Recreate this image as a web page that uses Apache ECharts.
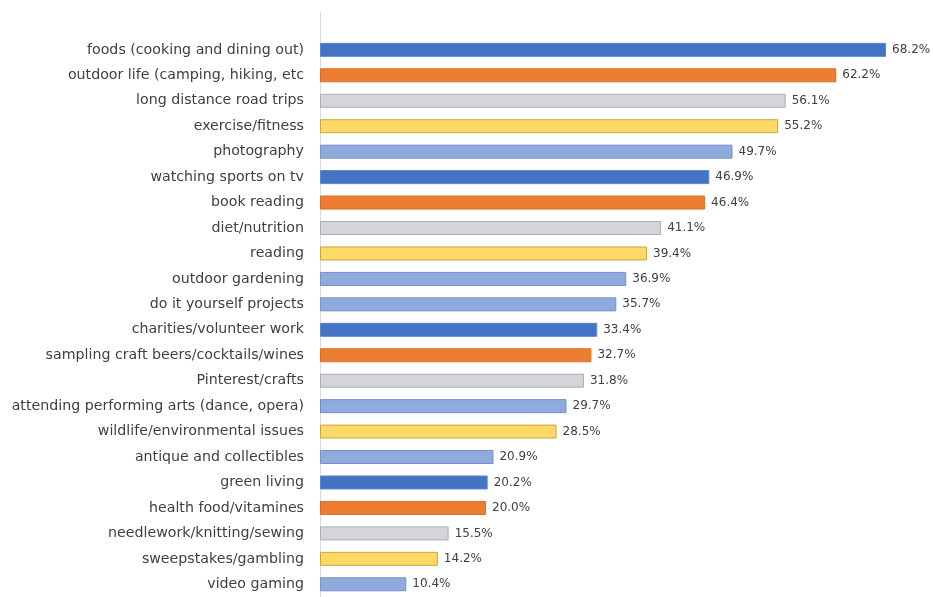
<!DOCTYPE html>
<html><head><meta charset="utf-8">
<script src="https://cdn.jsdelivr.net/npm/echarts@6/dist/echarts.min.js"></script>
<style>html,body{margin:0;padding:0;background:#fff}#c{width:933px;height:597px}</style>
</head><body><div id="c"></div>
<script>
const categories = [
  "foods (cooking and dining out)",
  "outdoor life (camping, hiking, etc",
  "long distance road trips",
  "exercise/fitness",
  "photography",
  "watching sports on tv",
  "book reading",
  "diet/nutrition",
  "reading",
  "outdoor gardening",
  "do it yourself projects",
  "charities/volunteer work",
  "sampling craft beers/cocktails/wines",
  "Pinterest/crafts",
  "attending performing arts (dance, opera)",
  "wildlife/environmental issues",
  "antique and collectibles",
  "green living",
  "health food/vitamines",
  "needlework/knitting/sewing",
  "sweepstakes/gambling",
  "video gaming"
];
const values = [68.2, 62.2, 56.1, 55.2, 49.7, 46.9, 46.4, 41.1, 39.4, 36.9, 35.7, 33.4, 32.7, 31.8, 29.7, 28.5, 20.9, 20.2, 20.0, 15.5, 14.2, 10.4];

const palette = {
  blue:   {fill: "#4472C4", border: "#5B85CF"},
  orange: {fill: "#ED7D31", border: "#D9702A"},
  grey:   {fill: "#D3D5D9", border: "#A9ADB3"},
  yellow: {fill: "#FFD966", border: "#C9A73E"},
  light:  {fill: "#8FAADC", border: "#7590C6"}
};
const colorKeys = ["blue","orange","grey","yellow","light","blue","orange","grey","yellow","light","light","blue","orange","grey","light","yellow","light","blue","orange","grey","yellow","light"];

const axisData = [""].concat(categories);
const seriesData = [null].concat(values.map((v, i) => ({
  value: v,
  itemStyle: {color: palette[colorKeys[i]].fill, borderColor: palette[colorKeys[i]].border, borderWidth: 1}
})));

const chart = echarts.init(document.getElementById('c'), null, {renderer: 'canvas'});
chart.setOption({
  animation: false,
  textStyle: {fontFamily: "DejaVu Sans"},
  grid: {left: 320, right: 32, top: 11.7, bottom: -1.7, containLabel: false},
  xAxis: {
    type: 'value', min: 0, max: 70,
    show: false
  },
  yAxis: {
    type: 'category', inverse: true, data: axisData,
    axisLine: {show: true, lineStyle: {color: '#D9D9D9', width: 1}},
    axisTick: {show: false},
    axisLabel: {color: '#404040', fontSize: 14.2, margin: 16, fontFamily: "DejaVu Sans"},
    splitLine: {show: false}
  },
  series: [{
    type: 'bar',
    data: seriesData,
    barWidth: 14,
    label: {
      show: true, position: 'right', distance: 6,
      color: '#404040', fontSize: 12, fontFamily: "DejaVu Sans",
      formatter: p => p.value.toFixed(1) + '%'
    }
  }]
});
</script></body></html>
